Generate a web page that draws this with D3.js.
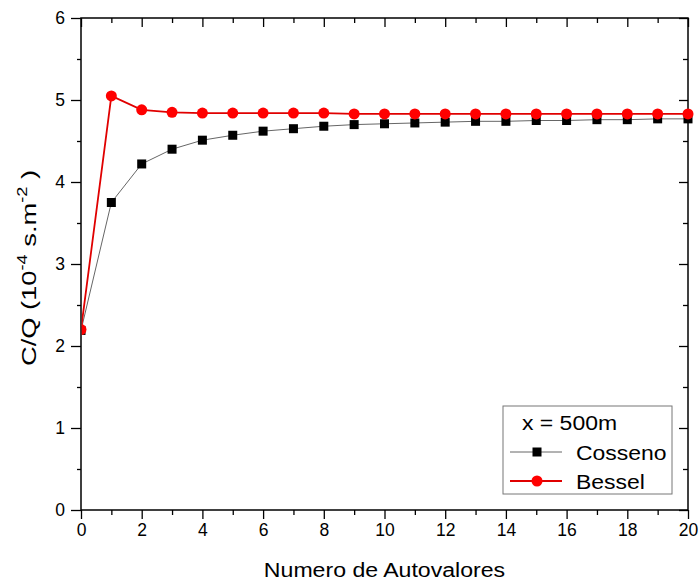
<!DOCTYPE html>
<html><head><meta charset="utf-8">
<script src="https://cdn.jsdelivr.net/npm/d3@7"></script>
<style>body{margin:0;background:#fff;} svg{display:block;font-family:"Liberation Sans",Arial,sans-serif;}</style>
</head><body><svg id="c" width="699" height="582"></svg>
<script>
const xVals = [0,1,2,3,4,5,6,7,8,9,10,11,12,13,14,15,16,17,18,19,20];
const cosseno = [2.19,3.75,4.22,4.40,4.51,4.57,4.62,4.65,4.68,4.70,4.71,4.72,4.73,4.74,4.74,4.75,4.75,4.76,4.76,4.77,4.77];
const bessel = [2.20,5.05,4.88,4.85,4.84,4.84,4.84,4.84,4.84,4.83,4.83,4.83,4.83,4.83,4.83,4.83,4.83,4.83,4.83,4.83,4.83];
const xTicks = [0,2,4,6,8,10,12,14,16,18,20];
const yTicks = [0,1,2,3,4,5,6];
const legendTitle = "x = 500m";
const seriesNames = ["Cosseno","Bessel"];

const svg = d3.select("#c");
const L=81, R=688, T=18, B=510;
const x = d3.scaleLinear().domain([0,20]).range([L,R]);
const y = d3.scaleLinear().domain([0,6]).range([B,T]);

svg.append("rect").attr("x",L).attr("y",T).attr("width",R-L).attr("height",B-T)
  .attr("fill","none").attr("stroke","#000").attr("stroke-width",1.5);

const xMinor = d3.range(1,20,2), yMinor = d3.range(0.5,6,1);
function ticks(g){ g.select(".domain").remove(); g.selectAll("line").attr("stroke","#000").attr("stroke-width",1.3); }

const gb = svg.append("g").attr("transform",`translate(0,${B})`)
  .call(d3.axisBottom(x).tickValues(xTicks).tickSize(9).tickPadding(5).tickFormat(d3.format("d")));
ticks(gb); gb.selectAll("text").attr("font-size",17.5).attr("font-family","Liberation Sans, Arial").attr("fill","#000");
svg.append("g").attr("transform",`translate(0,${B})`).call(d3.axisBottom(x).tickValues(xMinor).tickSize(5).tickFormat("")).call(ticks);
svg.append("g").attr("transform",`translate(0,${T})`).call(d3.axisBottom(x).tickValues(xTicks).tickSize(9).tickFormat("")).call(ticks);
svg.append("g").attr("transform",`translate(0,${T})`).call(d3.axisBottom(x).tickValues(xMinor).tickSize(5).tickFormat("")).call(ticks);
const gl = svg.append("g").attr("transform",`translate(${L},0)`)
  .call(d3.axisLeft(y).tickValues(yTicks).tickSize(10).tickPadding(6).tickFormat(d3.format("d")));
ticks(gl); gl.selectAll("text").attr("font-size",17.5).attr("font-family","Liberation Sans, Arial").attr("fill","#000");
svg.append("g").attr("transform",`translate(${L},0)`).call(d3.axisLeft(y).tickValues(yMinor).tickSize(4).tickFormat("")).call(ticks);
svg.append("g").attr("transform",`translate(${R},0)`).call(d3.axisLeft(y).tickValues(yTicks).tickSize(9).tickFormat("")).call(ticks);
svg.append("g").attr("transform",`translate(${R},0)`).call(d3.axisLeft(y).tickValues(yMinor).tickSize(5).tickFormat("")).call(ticks);

svg.append("clipPath").attr("id","clip").append("rect").attr("x",L+0.75).attr("y",T).attr("width",R-L+8).attr("height",B-T);
const plot = svg.append("g").attr("clip-path","url(#clip)");
const line = d3.line().x((d,i)=>x(xVals[i])).y(d=>y(d));

plot.append("path").datum(cosseno).attr("d",line).attr("fill","none").attr("stroke","#666").attr("stroke-width",1);
plot.append("path").datum(bessel).attr("d",line).attr("fill","none").attr("stroke","#e00000").attr("stroke-width",1.8);

plot.selectAll(".sq").data(cosseno).enter().append("rect")
  .attr("x",(d,i)=>x(xVals[i])-4.5).attr("y",d=>y(d)-4.5).attr("width",9).attr("height",9).attr("fill","#000");
plot.selectAll(".ci").data(bessel).enter().append("circle")
  .attr("cx",(d,i)=>x(xVals[i])).attr("cy",d=>y(d)).attr("r",5.5).attr("fill","#f00");

svg.append("text").attr("transform",`translate(${(L+R)/2},576.5) scale(1.1,1)`).attr("text-anchor","middle").attr("font-size",21).text("Numero de Autovalores");
const yt = svg.append("text").attr("transform","translate(36,268) rotate(-90) scale(1.3,1)").attr("text-anchor","middle").attr("font-size",21);
yt.append("tspan").text("C/Q (10");
yt.append("tspan").attr("dy",-9).attr("font-size",14).text("-4");
yt.append("tspan").attr("dy",9).text(" s.m");
yt.append("tspan").attr("dy",-9).attr("font-size",14).text("-2");
yt.append("tspan").attr("dy",9).text(" )");

const lg = svg.append("g");
lg.append("rect").attr("x",503).attr("y",406).attr("width",169).attr("height",88).attr("fill","#fff").attr("stroke","#777").attr("stroke-width",1);
lg.append("text").attr("transform","translate(522,430) scale(1.12,1)").attr("font-size",20.5).text(legendTitle);
const rows=[{n:seriesNames[0],y:452,b:459.5},{n:seriesNames[1],y:481,b:489}];
lg.append("line").attr("x1",510).attr("x2",562).attr("y1",452).attr("y2",452).attr("stroke","#666").attr("stroke-width",1);
lg.append("rect").attr("x",537-4.5).attr("y",452-4.5).attr("width",9).attr("height",9).attr("fill","#000");
lg.append("line").attr("x1",510).attr("x2",562).attr("y1",481).attr("y2",481).attr("stroke","#e00000").attr("stroke-width",1.8);
lg.append("circle").attr("cx",537).attr("cy",481).attr("r",5.5).attr("fill","#f00");
rows.forEach(r=>lg.append("text").attr("transform",`translate(576,${r.b}) scale(1.12,1)`).attr("font-size",20.5).text(r.n));
</script></body></html>
